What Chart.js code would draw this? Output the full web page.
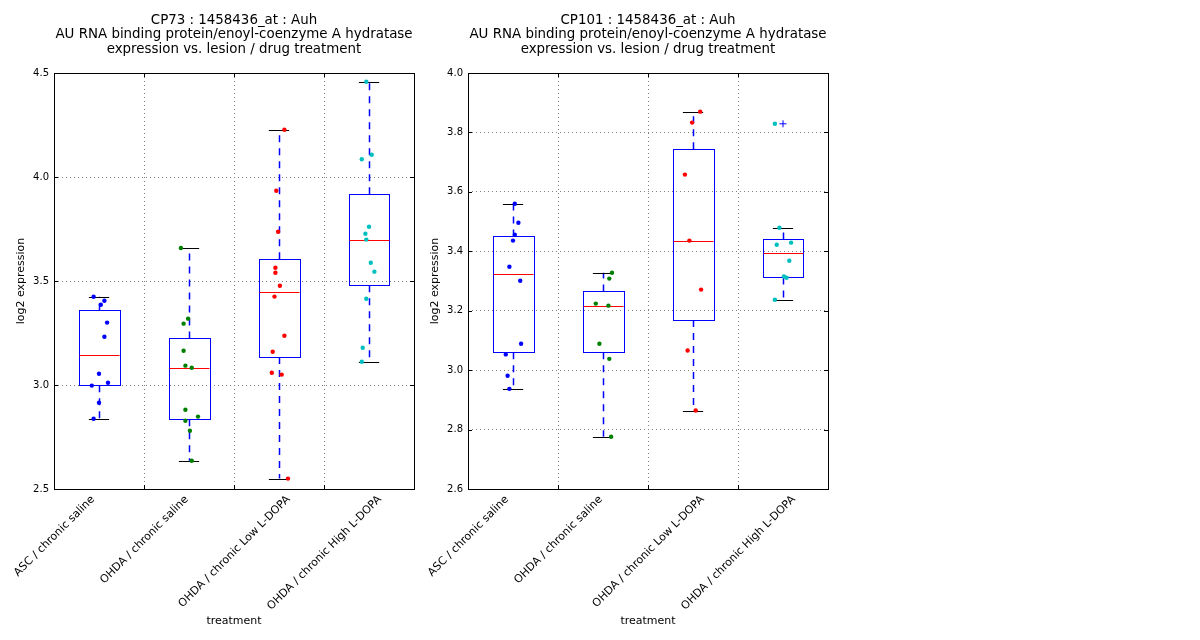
<!DOCTYPE html>
<html><head><meta charset="utf-8">
<script src="https://cdn.jsdelivr.net/npm/chart.js@4.4.0/dist/chart.umd.min.js"></script>
<style>
html,body{margin:0;padding:0;background:#fff;}
body{width:1200px;height:640px;position:relative;overflow:hidden;}
.wrap{position:absolute;top:0;width:468px;height:640px;}
#w1{left:0}
#w2{left:414px}
</style></head><body>
<div class="wrap" id="w1"><canvas id="c1"></canvas></div>
<div class="wrap" id="w2"><canvas id="c2"></canvas></div>
<script>
// ---------- data ----------
const categories = ["ASC / chronic saline", "OHDA / chronic saline", "OHDA / chronic Low L-DOPA", "OHDA / chronic High L-DOPA"];
const groupColors = ["#0000ff", "#008000", "#ff0000", "#00bfbf"];

const titleCP73 = ["CP73 : 1458436_at : Auh", "AU RNA binding protein/enoyl-coenzyme A hydratase", "expression vs. lesion / drug treatment"];
const titleCP101 = ["CP101 : 1458436_at : Auh", "AU RNA binding protein/enoyl-coenzyme A hydratase", "expression vs. lesion / drug treatment"];

// CP73 sample values per group
const cp73AscSaline  = [3.424, 3.405, 3.386, 3.300, 3.232, 3.054, 3.011, 2.997, 2.915, 2.838];
const cp73OhdaSaline = [3.659, 3.319, 3.295, 3.165, 3.093, 3.083, 2.881, 2.848, 2.828, 2.780, 2.636];
const cp73OhdaLow    = [4.227, 3.934, 3.737, 3.564, 3.540, 3.477, 3.425, 3.237, 3.160, 3.059, 3.050, 2.550];
const cp73OhdaHigh   = [4.458, 4.107, 4.085, 3.761, 3.727, 3.699, 3.588, 3.545, 3.415, 3.179, 3.112];
// horizontal jitter of each sample (category units)
const cp73JitAsc  = [-0.06, 0.06, 0.02, 0.09, 0.06, 0.00, 0.10, -0.08, 0.00, -0.06];
const cp73JitSal  = [-0.09, -0.01, -0.06, -0.06, -0.04, 0.03, -0.04, 0.10, -0.04, 0.01, 0.03];
const cp73JitLow  = [0.06, -0.03, -0.01, -0.04, -0.04, 0.01, -0.05, 0.06, -0.07, -0.08, 0.03, 0.10];
const cp73JitHigh = [-0.03, 0.03, -0.08, 0.00, -0.04, -0.03, 0.02, 0.06, -0.03, -0.07, -0.08];
// CP73 box statistics
const cp73Q1     = [2.999, 2.835, 3.135, 3.479];
const cp73Median = [3.143, 3.080, 3.447, 3.696];
const cp73Q3     = [3.359, 3.224, 3.604, 3.917];
const cp73WhiskLo = [2.838, 2.636, 2.550, 3.112];
const cp73WhiskHi = [3.424, 3.659, 4.227, 4.458];
const cp73Fliers = [[], [], [], []];

// CP101 sample values per group
const cp101AscSaline  = [3.560, 3.496, 3.456, 3.436, 3.348, 3.301, 3.089, 3.053, 2.981, 2.937];
const cp101OhdaSaline = [3.328, 3.308, 3.224, 3.217, 3.089, 3.038, 2.776];
const cp101OhdaLow    = [3.870, 3.833, 3.658, 3.436, 3.271, 3.066, 2.864];
const cp101OhdaHigh   = [3.829, 3.479, 3.429, 3.422, 3.368, 3.315, 3.311, 3.237];
const cp101JitAsc  = [0.02, 0.06, 0.02, 0.00, -0.04, 0.08, 0.09, -0.08, -0.06, -0.04];
const cp101JitSal  = [0.10, 0.07, -0.08, 0.06, -0.04, 0.07, 0.09];
const cp101JitLow  = [0.08, -0.01, -0.09, -0.04, 0.09, -0.06, 0.03];
const cp101JitHigh = [-0.09, -0.04, 0.09, -0.07, 0.07, 0.01, 0.04, -0.09];
const cp101Q1     = [3.060, 3.060, 3.169, 3.312];
const cp101Median = [3.323, 3.215, 3.434, 3.393];
const cp101Q3     = [3.450, 3.265, 3.743, 3.440];
const cp101WhiskLo = [2.937, 2.776, 2.864, 3.237];
const cp101WhiskHi = [3.560, 3.328, 3.870, 3.479];
const cp101Fliers = [[], [], [], [3.829]];

// axis ranges / ticks
const cp73YMin = 2.5, cp73YMax = 4.5, cp73YStep = 0.5;
const cp101YMin = 2.6, cp101YMax = 4.0, cp101YStep = 0.2;
const xGridValues = [1.5, 2.5, 3.5];        // dotted vertical grid lines
const xLabelCenters = [0.5, 1.5, 2.5, 3.5]; // rotated label boxes are centred here

// ---------- drawing ----------
const FONT = "'DejaVu Sans', 'Liberation Sans', sans-serif";
const LABEL_SIZE = 11;

const boxPlugin = {
  id: 'boxes',
  beforeDatasetsDraw(chart, args, o) {
    const xs = chart.scales.x, ys = chart.scales.y, ctx = chart.ctx;
    const r = v => Math.round(v) + 0.5;
    ctx.save();
    for (let i = 0; i < o.q1.length; i++) {
      const cx = xs.getPixelForValue(i + 1);
      const hw = xs.getPixelForValue(i + 1 + o.width / 2) - cx;
      const yq1 = ys.getPixelForValue(o.q1[i]), yq3 = ys.getPixelForValue(o.q3[i]);
      const ymed = ys.getPixelForValue(o.med[i]);
      const ylo = ys.getPixelForValue(o.lo[i]), yhi = ys.getPixelForValue(o.hi[i]);
      // dashed whiskers
      ctx.strokeStyle = '#0000ff';
      ctx.lineWidth = 1.5;
      ctx.setLineDash([7, 6]);
      ctx.beginPath();
      ctx.moveTo(r(cx), yq3); ctx.lineTo(r(cx), yhi);
      ctx.moveTo(r(cx), yq1); ctx.lineTo(r(cx), ylo);
      ctx.stroke();
      ctx.setLineDash([]);
      ctx.lineWidth = 1;
      // caps
      ctx.strokeStyle = '#000000';
      ctx.beginPath();
      ctx.moveTo(cx - hw / 2, r(yhi)); ctx.lineTo(cx + hw / 2, r(yhi));
      ctx.moveTo(cx - hw / 2, r(ylo)); ctx.lineTo(cx + hw / 2, r(ylo));
      ctx.stroke();
      // box
      ctx.strokeStyle = '#0000ff';
      ctx.strokeRect(r(cx - hw), r(yq3), Math.round(2 * hw), Math.round(yq1 - yq3));
      // median
      ctx.strokeStyle = '#ff0000';
      ctx.beginPath();
      ctx.moveTo(r(cx - hw), r(ymed)); ctx.lineTo(r(cx + hw), r(ymed));
      ctx.stroke();
    }
    ctx.restore();
  },
  afterDraw(chart) {
    const ctx = chart.ctx, a = chart.chartArea, ys = chart.scales.y, xs = chart.scales.x;
    ctx.save();
    ctx.strokeStyle = '#000';
    ctx.lineWidth = 1;
    ctx.beginPath();
    ys.ticks.forEach(t => {
      const py = Math.round(ys.getPixelForValue(t.value)) + 0.5;
      ctx.moveTo(a.left, py); ctx.lineTo(a.left + 4, py);
      ctx.moveTo(a.right, py); ctx.lineTo(a.right - 4, py);
    });
    xGridValues.forEach(v => {
      const px = Math.round(xs.getPixelForValue(v)) + 0.5;
      ctx.moveTo(px, a.bottom); ctx.lineTo(px, a.bottom - 4);
      ctx.moveTo(px, a.top); ctx.lineTo(px, a.top + 4);
    });
    ctx.stroke();
    ctx.strokeRect(Math.round(a.left) + 0.5, Math.round(a.top) + 0.5,
                   Math.round(a.right - a.left), Math.round(a.bottom - a.top));
    ctx.restore();
  }
};

// x ticks: grid ticks (no label) + label ticks placed so that each
// rotated label box is centred on xLabelCenters[i]
function buildXTicks(s) {
  const ctx = s.ctx;
  ctx.save();
  ctx.font = LABEL_SIZE + "px " + FONT;
  const unitPx = (s.width || 360) / (s.max - s.min);
  const c45 = Math.SQRT1_2;
  const ticks = xGridValues.map(v => ({ value: v, _lab: '' }));
  categories.forEach((lab, i) => {
    const w = ctx.measureText(lab).width;
    const halfExtent = (w * c45 + 5) / 2;
    ticks.push({ value: xLabelCenters[i] + (halfExtent - 2) / unitPx, _lab: lab, _isLabel: true });
  });
  ctx.restore();
  ticks.sort((a, b) => a.value - b.value);
  s.ticks = ticks;
}

function makeChart(id, title, groups, jitters, stats, yMin, yMax, yStep) {
  const datasets = groups.map((vals, gi) => ({
    type: 'scatter',
    data: vals.map((v, k) => ({ x: gi + 1 + jitters[gi][k], y: v })),
    pointRadius: 2.2,
    pointBorderWidth: 0,
    pointBackgroundColor: groupColors[gi],
    pointBorderColor: groupColors[gi]
  }));
  const flierData = [];
  stats.fliers.forEach((arr, gi) => arr.forEach(v => flierData.push({ x: gi + 1, y: v })));
  datasets.push({
    type: 'scatter',
    data: flierData,
    pointStyle: 'cross',
    pointRadius: 3.5,
    pointBorderWidth: 1,
    pointBorderColor: '#0000ff',
    pointBackgroundColor: '#0000ff'
  });
  const isEdgeY = v => Math.abs(v - yMin) < 1e-6 || Math.abs(v - yMax) < 1e-6;
  return new Chart(document.getElementById(id), {
    type: 'scatter',
    data: { datasets },
    options: {
      responsive: true,
      maintainAspectRatio: false,
      animation: false,
      events: [],
      layout: { padding: { left: 0, right: 54, top: 0, bottom: 0 } },
      plugins: {
        legend: { display: false },
        tooltip: { enabled: false },
        title: {
          display: true,
          fullSize: false,
          text: title,
          color: '#000',
          font: { family: FONT, size: 13.4, weight: 'normal', lineHeight: '14.5px' },
          padding: { top: 13, bottom: 16.5 }
        },
        boxes: Object.assign({ width: 0.45 }, stats)
      },
      scales: {
        x: {
          type: 'linear',
          min: 0.5, max: 4.5,
          afterBuildTicks: buildXTicks,
          afterFit: s => { s.height = 151; },
          ticks: {
            autoSkip: false,
            minRotation: 45, maxRotation: 45,
            padding: 4,
            color: '#000',
            font: { family: FONT, size: LABEL_SIZE },
            callback: (v, i, ticks) => ticks[i]._lab || ''
          },
          grid: {
            drawTicks: false,
            lineWidth: 1,
            color: c => (c.tick && !c.tick._isLabel && c.tick._lab === '') ? '#7f7f7f' : 'rgba(0,0,0,0)'
          },
          border: { display: false, dash: [1, 3] },
          title: {
            display: true, text: 'treatment', color: '#000',
            font: { family: FONT, size: 11 },
            padding: { top: 0, bottom: 12 }
          }
        },
        y: {
          type: 'linear',
          min: yMin, max: yMax,
          afterFit: s => { s.width = 54; },
          ticks: {
            stepSize: yStep,
            padding: 5,
            color: '#000',
            font: { family: FONT, size: 10 },
            callback: v => Number(v).toFixed(1)
          },
          grid: {
            drawTicks: false,
            lineWidth: 1,
            color: c => (c.tick && !isEdgeY(c.tick.value)) ? '#7f7f7f' : 'rgba(0,0,0,0)'
          },
          border: { display: false, dash: [1, 3] },
          title: {
            display: true, text: 'log2 expression', color: '#000',
            font: { family: FONT, size: 11 },
            padding: { top: 15, bottom: 0 }
          }
        }
      }
    },
    plugins: [boxPlugin]
  });
}

makeChart('c1', titleCP73,
  [cp73AscSaline, cp73OhdaSaline, cp73OhdaLow, cp73OhdaHigh],
  [cp73JitAsc, cp73JitSal, cp73JitLow, cp73JitHigh],
  { q1: cp73Q1, med: cp73Median, q3: cp73Q3, lo: cp73WhiskLo, hi: cp73WhiskHi, fliers: cp73Fliers },
  cp73YMin, cp73YMax, cp73YStep);

makeChart('c2', titleCP101,
  [cp101AscSaline, cp101OhdaSaline, cp101OhdaLow, cp101OhdaHigh],
  [cp101JitAsc, cp101JitSal, cp101JitLow, cp101JitHigh],
  { q1: cp101Q1, med: cp101Median, q3: cp101Q3, lo: cp101WhiskLo, hi: cp101WhiskHi, fliers: cp101Fliers },
  cp101YMin, cp101YMax, cp101YStep);
</script>
</body></html>
